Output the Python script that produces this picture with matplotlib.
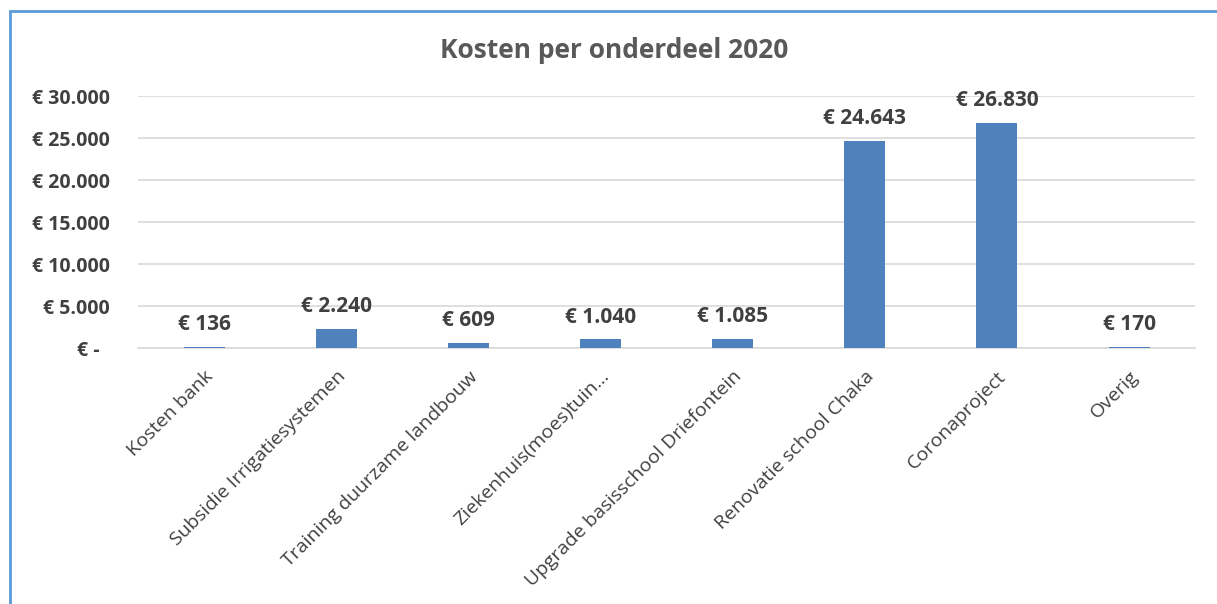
import matplotlib.pyplot as plt
from matplotlib.patches import Rectangle

plt.rcParams['font.family'] = ['Open Sans', 'DejaVu Sans']

# Data
categories = ["Kosten bank", "Subsidie Irrigatiesystemen", "Training duurzame landbouw",
              "Ziekenhuis(moes)tuin…", "Upgrade basisschool Driefontein",
              "Renovatie school Chaka", "Coronaproject", "Overig"]
costs = [136, 2240, 609, 1040, 1085, 24643, 26830, 170]
cost_labels = ["€ 136", "€ 2.240", "€ 609", "€ 1.040", "€ 1.085", "€ 24.643", "€ 26.830", "€ 170"]
y_ticks = [0, 5000, 10000, 15000, 20000, 25000, 30000]
y_tick_labels = ["€ -  ", "€ 5.000", "€ 10.000", "€ 15.000", "€ 20.000", "€ 25.000", "€ 30.000"]

fig = plt.figure(figsize=(12.17, 6.04), dpi=100)
ax = fig.add_axes([0.1134, 0.4238, 0.8686, 0.4172])

x = range(len(categories))
ax.bar(x, costs, width=0.31, color="#4F81BD", zorder=3)

for i, v in enumerate(costs):
    ax.annotate(cost_labels[i], (i, v), xytext=(0, 16), textcoords="offset points",
                ha="center", va="center", fontsize=15, fontweight="bold", color="#404040")

ax.set_xlim(-0.5, len(categories) - 0.5)
ax.set_ylim(0, 30000)
ax.set_yticks(y_ticks)
ax.set_yticklabels(y_tick_labels, fontsize=14, fontweight="bold", color="#404040")
ax.set_xticks(list(x))
ax.set_xticklabels(categories, rotation=45, ha="right", rotation_mode="anchor",
                   fontsize=14, color="#404040")
ax.tick_params(axis="both", length=0)
ax.tick_params(axis="y", pad=20)
ax.tick_params(axis="x", pad=14)

ax.grid(axis="y", color="#D9D9D9", linewidth=1.2, zorder=0)
for s in ["top", "right", "left"]:
    ax.spines[s].set_visible(False)
ax.spines["bottom"].set_color("#D9D9D9")
ax.spines["bottom"].set_linewidth(1.2)

fig.text(0.505, 1 - 50 / 604, "Kosten per onderdeel 2020", ha="center", va="center",
         fontsize=19, fontweight="bold", color="#595959")

# chart border (only top and left visible in the crop)
fig.patches.append(Rectangle((10 / 1217, -0.1), 1.2, 1 - 11 / 604 + 0.1,
                             transform=fig.transFigure, fill=False,
                             edgecolor="#5B9BD5", linewidth=2))

fig.savefig("out.png", dpi=100)
